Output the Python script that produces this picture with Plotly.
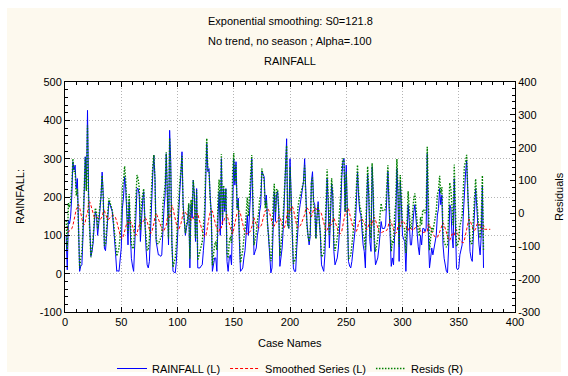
import plotly.graph_objects as go

# ---------------- data ----------------
cases = list(range(1, 373))
smooth_cases = list(range(1, 379))

rainfall = [
    100, 10, 140, 130, 150, 200, 292, 270, 283, 222,
    248, 100, 6, 20, 23, 100, 200, 305, 220, 426,
    205, 100, 45, 58, 80, 130, 162, 150, 100, 130,
    160, 200, 265, 205, 67, 60, 100, 150, 188, 180,
    170, 162, 130, 100, 50, 6, 8, 6, 30, 67,
    170, 200, 253, 222, 150, 75, 188, 118, 40, 20,
    6, 75, 150, 222, 222, 205, 84, 160, 190, 214,
    118, 67, 23, 15, 32, 120, 205, 260, 309, 248,
    84, 60, 49, 49, 45, 49, 136, 170, 205, 313,
    205, 75, 374, 292, 84, 6, 4, 2, 32, 100,
    180, 214, 260, 318, 180, 140, 100, 120, 136, 180,
    15, 180, 145, 244, 205, 84, 222, 15, 15, 15,
    20, 23, 60, 100, 231, 339, 266, 274, 205, 158,
    6, 32, 41, 41, 6, 150, 214, 100, 300, 127,
    222, 162, 222, 32, 6, 41, 49, 23, 231, 300,
    231, 292, 170, 197, 84, 6, 10, 15, 41, 60,
    100, 153, 100, 150, 214, 300, 197, 49, 58, 67,
    100, 118, 162, 180, 266, 257, 253, 180, 205, 136,
    80, 49, 2, 15, 150, 214, 136, 205, 214, 162,
    19, 40, 67, 118, 205, 300, 352, 127, 118, 300,
    205, 100, 15, 6, 6, 67, 136, 160, 180, 197,
    214, 240, 300, 205, 136, 100, 75, 100, 240, 266,
    188, 180, 93, 150, 188, 140, 100, 23, 15, 6,
    49, 140, 248, 180, 67, 150, 235, 205, 58, 23,
    30, 41, 67, 110, 160, 250, 292, 300, 162, 283,
    162, 32, 20, 15, 32, 60, 75, 118, 188, 266,
    200, 162, 153, 100, 75, 58, 15, 150, 261, 205,
    84, 58, 279, 205, 67, 23, 30, 41, 67, 100,
    136, 118, 118, 118, 127, 180, 266, 180, 100, 19,
    41, 23, 100, 136, 274, 205, 32, 240, 180, 100,
    90, 84, 6, 100, 180, 136, 75, 75, 136, 160,
    180, 136, 100, 70, 49, 100, 75, 118, 118, 110,
    118, 313, 100, 15, 41, 67, 49, 67, 80, 100,
    153, 170, 222, 180, 205, 75, 40, 23, 6, 2,
    67, 180, 170, 100, 67, 248, 118, 15, 10, 15,
    49, 60, 75, 150, 231, 260, 296, 205, 118, 58,
    40, 32, 100, 160, 222, 175, 110, 75, 49, 100,
    231, 15,
]

smoothed = [
    121.8, 119.6, 108.6, 111.7, 113.5, 117.2, 125.5, 142.2, 155.0, 167.8,
    173.2, 180.7, 172.6, 155.9, 142.3, 130.4, 127.4, 134.7, 151.7, 158.5,
    185.3, 187.3, 178.6, 165.2, 154.5, 147.1, 145.4, 147.1, 147.4, 142.7,
    141.4, 143.3, 149.0, 160.6, 165.0, 155.2, 145.7, 141.1, 142.0, 146.6,
    149.9, 151.9, 152.9, 150.6, 145.5, 136.0, 123.0, 111.5, 100.9, 93.8,
    91.1, 99.0, 109.1, 123.5, 133.4, 135.1, 129.1, 135.0, 133.3, 124.0,
    113.6, 102.8, 100.0, 105.0, 116.7, 127.2, 135.0, 129.9, 132.9, 138.6,
    146.1, 143.3, 135.7, 124.4, 113.5, 105.3, 106.8, 116.6, 130.9, 148.7,
    158.6, 151.1, 142.0, 132.7, 124.3, 116.4, 109.7, 112.3, 118.1, 126.8,
    145.4, 151.4, 143.8, 166.8, 179.3, 169.8, 153.4, 138.5, 124.8, 115.5,
    114.0, 120.6, 129.9, 142.9, 160.4, 162.4, 160.2, 154.2, 150.8, 149.3,
    152.4, 138.7, 142.8, 143.0, 153.1, 158.3, 150.9, 158.0, 143.7, 130.8,
    119.2, 109.3, 100.7, 96.6, 96.9, 110.3, 133.2, 146.5, 159.3, 163.9,
    163.3, 147.6, 136.0, 126.5, 118.0, 106.8, 111.1, 121.4, 119.3, 137.4,
    136.4, 145.0, 146.7, 154.2, 142.0, 128.4, 119.7, 112.6, 103.6, 116.3,
    134.7, 144.3, 159.1, 160.2, 163.9, 155.9, 140.9, 127.8, 116.5, 109.0,
    104.1, 103.7, 108.6, 107.7, 111.9, 122.1, 139.9, 145.6, 135.9, 128.1,
    122.0, 119.8, 119.6, 123.8, 129.4, 143.1, 154.5, 164.4, 166.0, 169.9,
    166.5, 157.9, 147.0, 132.5, 120.8, 123.7, 132.7, 133.0, 140.2, 147.6,
    149.0, 136.0, 126.4, 120.5, 120.3, 128.8, 145.9, 166.5, 162.6, 158.1,
    172.3, 175.6, 168.0, 152.7, 138.0, 124.8, 119.0, 120.7, 124.6, 130.1,
    136.8, 144.5, 154.1, 168.7, 172.3, 168.7, 161.8, 153.1, 147.8, 157.0,
    167.9, 169.9, 170.9, 163.1, 161.8, 164.4, 162.0, 155.8, 142.5, 129.8,
    117.4, 110.6, 113.5, 127.0, 132.3, 125.8, 128.2, 138.9, 145.5, 136.8,
    125.4, 115.9, 108.4, 104.3, 104.9, 110.4, 124.4, 141.2, 157.1, 157.6,
    170.1, 169.3, 155.6, 142.0, 129.3, 119.6, 113.6, 109.7, 110.5, 118.3,
    133.1, 139.8, 142.0, 143.1, 138.8, 132.4, 125.0, 114.0, 117.6, 131.9,
    139.2, 133.7, 126.1, 141.4, 147.8, 139.7, 128.0, 118.2, 110.5, 106.2,
    105.6, 108.6, 109.5, 110.4, 111.2, 112.8, 119.5, 134.2, 138.8, 134.9,
    123.3, 115.1, 105.9, 105.3, 108.4, 125.0, 133.0, 122.9, 134.6, 139.1,
    135.2, 130.7, 126.0, 114.0, 112.6, 119.3, 121.0, 116.4, 112.3, 114.7,
    119.2, 125.3, 126.4, 123.8, 118.4, 111.5, 110.4, 106.9, 108.0, 109.0,
    109.1, 110.0, 130.3, 127.3, 116.1, 108.6, 104.4, 98.9, 95.7, 94.1,
    94.7, 100.5, 107.5, 118.9, 125.0, 133.0, 127.2, 118.5, 108.9, 98.6,
    88.9, 86.7, 96.0, 103.4, 103.1, 99.5, 114.4, 114.8, 104.8, 95.3,
    87.3, 83.5, 81.1, 80.5, 87.5, 101.8, 117.6, 135.4, 142.4, 140.0,
    131.8, 122.6, 113.5, 112.2, 117.0, 127.5, 132.3, 130.0, 124.5, 117.0,
    115.3, 126.9, 115.7, 115.7, 115.7, 115.7, 115.7, 115.7,
]

resids = [
    -21.8, -109.6, 31.4, 18.3, 36.5, 82.8, 166.5, 127.8, 128.0, 54.2,
    74.8, -80.7, -166.6, -135.9, -119.3, -30.4, 72.6, 170.3, 68.3, 267.5,
    19.7, -87.3, -133.6, -107.2, -74.5, -17.1, 16.6, 2.9, -47.4, -12.7,
    18.6, 56.7, 116.0, 44.4, -98.0, -95.2, -45.7, 8.9, 46.0, 33.4,
    20.1, 10.1, -22.9, -50.6, -95.5, -130.0, -115.0, -105.5, -70.9, -26.8,
    78.9, 101.0, 143.9, 98.5, 16.6, -60.1, 58.9, -17.0, -93.3, -104.0,
    -107.6, -27.8, 50.0, 117.0, 105.3, 77.8, -51.0, 30.1, 57.1, 75.4,
    -28.1, -76.3, -112.7, -109.4, -81.5, 14.7, 98.2, 143.4, 178.1, 99.3,
    -74.6, -91.1, -93.0, -83.7, -79.3, -67.4, 26.3, 57.7, 86.9, 186.2,
    59.6, -76.4, 230.2, 125.2, -95.3, -163.8, -149.4, -136.5, -92.8, -15.5,
    66.0, 93.4, 130.1, 175.1, 19.6, -22.4, -60.2, -34.2, -14.8, 30.7,
    -137.4, 41.3, 2.2, 101.0, 51.9, -74.3, 71.1, -143.0, -128.7, -115.8,
    -99.2, -86.3, -40.7, 3.4, 134.1, 228.7, 132.8, 127.5, 45.7, -5.9,
    -157.3, -115.6, -95.0, -85.5, -112.0, 43.2, 102.9, -21.4, 180.7, -10.4,
    85.6, 17.0, 75.3, -122.2, -136.0, -87.4, -70.7, -89.6, 127.4, 183.7,
    96.3, 147.7, 10.9, 36.8, -79.9, -149.9, -130.9, -112.8, -75.5, -49.0,
    -4.1, 49.3, -8.6, 42.3, 102.1, 177.9, 57.1, -96.6, -77.9, -61.1,
    -22.0, -1.8, 42.4, 56.2, 136.6, 113.9, 98.5, 15.6, 39.0, -33.9,
    -86.5, -108.9, -145.0, -117.5, 29.2, 90.3, 3.3, 72.0, 73.8, 14.4,
    -130.0, -96.0, -59.4, -2.5, 84.7, 171.2, 206.1, -39.5, -44.6, 141.9,
    32.7, -75.6, -153.0, -146.7, -132.0, -57.8, 17.0, 39.3, 55.4, 66.9,
    77.2, 95.5, 145.9, 36.3, -36.3, -68.7, -86.8, -53.1, 92.2, 109.0,
    20.1, 10.1, -77.9, -13.1, 26.2, -24.4, -62.0, -132.8, -127.5, -123.8,
    -68.4, 29.4, 134.5, 53.0, -65.3, 24.2, 106.8, 66.1, -87.5, -113.8,
    -95.4, -74.9, -41.4, 5.7, 55.1, 139.6, 167.6, 158.8, 4.9, 125.4,
    -8.1, -137.3, -135.6, -127.0, -97.3, -59.6, -38.6, 8.3, 77.5, 147.7,
    66.9, 22.2, 11.0, -43.1, -63.8, -74.4, -110.0, 36.0, 143.4, 73.1,
    -55.2, -75.7, 152.9, 63.6, -80.8, -116.7, -98.0, -77.2, -43.5, -6.2,
    30.4, 9.4, 8.5, 7.6, 15.8, 67.2, 146.5, 45.8, -38.8, -115.9,
    -82.3, -92.1, -5.9, 30.7, 165.6, 80.0, -101.0, 117.1, 45.4, -39.1,
    -45.2, -46.7, -120.0, -14.0, 67.4, 16.7, -46.0, -41.4, 23.7, 45.3,
    60.8, 10.7, -26.4, -53.8, -69.4, -11.5, -35.4, 11.1, 10.0, 1.0,
    8.9, 203.0, -30.3, -112.3, -75.1, -41.6, -55.4, -31.9, -15.7, 5.9,
    58.3, 69.5, 114.5, 61.1, 80.0, -58.0, -87.2, -95.5, -102.9, -96.6,
    -21.9, 93.3, 74.0, -3.4, -36.1, 148.5, 3.6, -99.8, -94.8, -80.3,
    -38.3, -23.5, -6.1, 69.5, 143.5, 158.2, 178.4, 69.6, -24.4, -82.0,
    -91.8, -90.6, -13.5, 47.8, 105.0, 47.5, -22.3, -55.0, -75.5, -17.0,
    115.7, -111.9,
]

x_ticks = [0, 50, 100, 150, 200, 250, 300, 350, 400]
y_ticks = [-100, 0, 100, 200, 300, 400, 500]
y2_ticks = [-300, -200, -100, 0, 100, 200, 300, 400]

title_lines = ["Exponential smoothing: S0=121.8",
               "No trend, no season ; Alpha=.100",
               "RAINFALL"]

# ---------------- layout geometry ----------------
W, H = 568, 376
L, R, T, B = 65, 53, 82, 64
PW, PH = W - L - R, H - T - B

def px(x):
    return (x - L) / PW

def py(y):
    return (H - B - y) / PH

FONT = "Liberation Sans, Arial, sans-serif"
CREAM = "#fdf9ee"
GRID = "#b4b4b4"

fig = go.Figure()
fig.add_trace(go.Scatter(x=cases, y=rainfall, mode="lines", name="RAINFALL (L)",
                         line=dict(color="#0000ff", width=1)))
fig.add_trace(go.Scatter(x=smooth_cases, y=smoothed, mode="lines", name="Smoothed Series (L)",
                         line=dict(color="#ff0000", width=1, dash="3px,2px")))
fig.add_trace(go.Scatter(x=cases, y=resids, mode="lines", name="Resids (R)", yaxis="y2",
                         line=dict(color="#008000", width=1.4, dash="1.5px,1.5px")))

def fmt(v):
    return str(v)

axis_common = dict(
    ticks="inside", ticklen=5, tickcolor="black", tickwidth=1,
    showline=True, linecolor="black", linewidth=1,
    zeroline=False, tickfont=dict(family=FONT, size=11, color="black"),
)

fig.update_layout(
    width=W, height=H,
    margin=dict(l=L, r=R, t=T, b=B, autoexpand=False),
    paper_bgcolor="white", plot_bgcolor="white",
    font=dict(family=FONT, size=11, color="black"),
    showlegend=True,
    legend=dict(orientation="h", x=0.5, xanchor="center", y=py(354), yanchor="top",
                bgcolor="rgba(0,0,0,0)", font=dict(family=FONT, size=11, color="black"),
                tracegroupgap=0, itemwidth=30),
    xaxis=dict(range=[0, 400], tickvals=x_ticks, ticktext=[fmt(v) for v in x_ticks],
               mirror="ticks", showgrid=True, gridcolor=GRID, griddash="1px,2px", gridwidth=1,
               minor=dict(ticks="inside", ticklen=3, dtick=10, tick0=0, tickcolor="black",
                          showgrid=False),
               **axis_common),
    yaxis=dict(range=[-100, 500], tickvals=y_ticks, ticktext=[fmt(v) for v in y_ticks],
               mirror=False, showgrid=True, gridcolor=GRID, griddash="1px,2px", gridwidth=1,
               minor=dict(ticks="inside", ticklen=3, dtick=20, tick0=0, tickcolor="black",
                          showgrid=False),
               **axis_common),
    yaxis2=dict(range=[-300, 400], tickvals=y2_ticks, ticktext=[fmt(v) for v in y2_ticks],
                overlaying="y", side="right", showgrid=False,
                minor=dict(ticks="inside", ticklen=3, dtick=20, tick0=0, tickcolor="black",
                           showgrid=False),
                **axis_common),
    shapes=[
        dict(type="rect", xref="paper", yref="paper", layer="below",
             x0=px(7), x1=px(561), y0=py(372), y1=py(8),
             fillcolor=CREAM, line=dict(width=0)),
        dict(type="rect", xref="paper", yref="paper", layer="below",
             x0=0, x1=1, y0=0, y1=1, fillcolor="white", line=dict(width=0)),
    ],
)

annotations = []
for txt, yy in zip(title_lines, [21, 41, 61]):
    annotations.append(dict(text=txt, x=px(290), y=py(yy), xref="paper", yref="paper",
                            xanchor="center", yanchor="middle", showarrow=False,
                            font=dict(family=FONT, size=11, color="black")))
annotations.append(dict(text="Case Names", x=px(290), y=py(343), xref="paper", yref="paper",
                        xanchor="center", yanchor="middle", showarrow=False,
                        font=dict(family=FONT, size=11, color="black")))
annotations.append(dict(text="RAINFALL:", x=px(20), y=py(197), xref="paper", yref="paper",
                        xanchor="center", yanchor="middle", showarrow=False, textangle=-90,
                        font=dict(family=FONT, size=11, color="black")))
annotations.append(dict(text="Residuals", x=px(559), y=py(197), xref="paper", yref="paper",
                        xanchor="center", yanchor="middle", showarrow=False, textangle=-90,
                        font=dict(family=FONT, size=11, color="black")))
fig.update_layout(annotations=annotations)

fig.write_html("out.html")
